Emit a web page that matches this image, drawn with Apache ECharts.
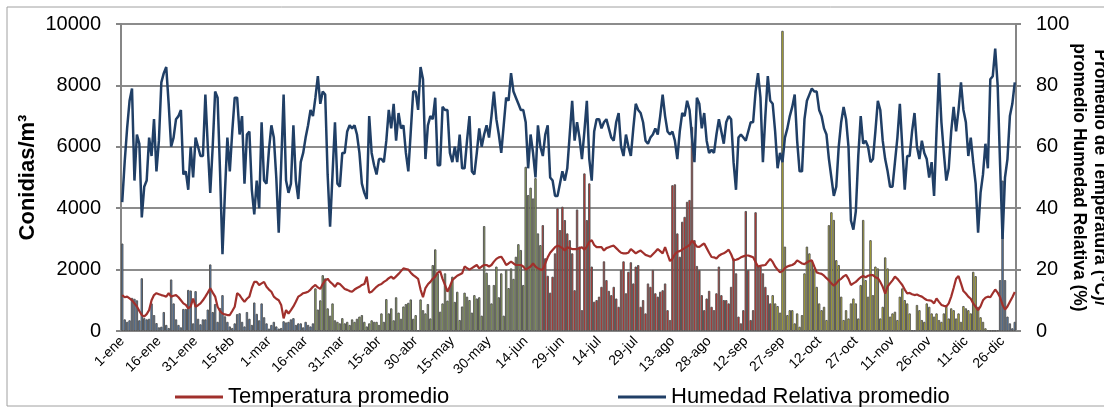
<!DOCTYPE html>
<html>
<head>
<meta charset="utf-8">
<title>Conidias y clima diario</title>
<script src="https://cdn.jsdelivr.net/npm/echarts/dist/echarts.min.js"></script>
<style>
  html, body { margin: 0; padding: 0; background: #fff; overflow: hidden; }
  #chart { width: 1104px; height: 407px; }
</style>
</head>
<body>
<div id="chart"></div>
<script>
// Calendar of a leap year, one category per day
const monthNames = ['ene', 'feb', 'mar', 'abr', 'may', 'jun', 'jul', 'ago', 'sep', 'oct', 'nov', 'dic'];
const monthLengths = [31, 29, 31, 30, 31, 30, 31, 31, 30, 31, 30, 31];

// Season boundaries (day index where each one begins) and bar fills
const seasonStart = [0, 79, 172, 266, 355];
const seasonFill = ['#4f7fba', '#9cb85a', '#e8231d', '#d6d01f', '#4f7fba'];

// Daily airborne conidia (conidias/m3)
const conidia = [
  2850, 380, 300, 350, 1080, 1050, 1000, 350, 1720, 420,
  380, 400, 900, 520, 260, 120, 140, 620, 200, 100,
  1680, 900, 380, 200, 120, 720, 720, 1340, 1320, 250,
  1300, 400, 220, 380, 380, 700, 2170, 620, 880, 300,
  750, 1170, 480, 300, 150, 100, 250, 550, 580, 300,
  150, 620, 400, 200, 930, 560, 350, 900, 450, 250,
  80, 200, 300, 150, 80, 100, 320, 280, 300, 380,
  420, 200, 250, 250, 120, 300, 200, 150, 250, 1390,
  700, 1000, 1820, 1715, 740, 500, 900, 350, 300, 250,
  420, 250, 300, 200, 380, 300, 400, 470, 520, 300,
  150, 250, 350, 300, 300, 200, 575, 300, 1040, 575,
  740, 350, 1100, 600, 400, 800, 880, 920, 1030, 400,
  520, 30, 1030, 680, 575, 880, 410, 2150, 2660, 1880,
  630, 900, 1880, 990, 1440, 1770, 950, 1280, 360, 800,
  1250, 1120, 1010, 600, 1170, 1060, 1100, 500, 3420, 1900,
  1500, 900, 1500, 2100, 1100, 1880, 500, 1990, 1400, 2040,
  1700, 2420, 2830, 2640, 1500, 5350, 4430, 4670, 4320, 4980,
  3180, 2800, 3450, 2370, 1800, 1250, 1770, 2530, 4000, 3290,
  4050, 3615, 3180, 2960, 2530, 1330, 3960, 2750, 680, 5135,
  3615, 4810, 2100, 955, 1010, 1120, 1440, 2270, 1660, 1310,
  1170, 1440, 1060, 790, 1990, 2270, 1230, 1930, 2240, 1550,
  2100, 2150, 790, 1010, 575, 1550, 1440, 1990, 1230, 1120,
  1280, 1330, 1550, 680, 360, 4750, 4780, 3180, 2420, 3560,
  3720, 4210, 4270, 6650, 2960, 2120, 1990, 1170, 680, 1060,
  1310, 790, 680, 1230, 2100, 1170, 1010, 1010, 900, 1440,
  2370, 1880, 470, 250, 680, 3910, 1990, 360, 680, 3870,
  2100, 2100, 1880, 1440, 1170, 900, 1170, 900, 815, 600,
  9780, 2750, 520, 680, 680, 250, 575, 140, 520, 1880,
  2750, 2530, 2310, 2040, 1440, 900, 680, 790, 360, 3450,
  3870, 3620, 2310, 2150, 1120, 360, 680, 410, 900, 1060,
  900, 410, 1500, 3620, 1660, 1120, 2960, 1170, 2100, 2040,
  410, 790, 2400, 2040, 470, 575, 630, 360, 1120, 1390,
  1010, 900, 575, 30, 30, 850, 680, 360, 300, 900,
  790, 575, 470, 575, 360, 300, 575, 790, 410, 740,
  680, 410, 575, 300, 815, 740, 680, 575, 1930, 1790,
  790, 450, 300, 90, 30, 20, 20, 20, 30, 1660,
  4900, 1660, 470, 250, 90, 300
];

// Daily mean temperature (°C)
const temperature = [
  11.7, 11, 11.2, 10.6, 10, 9, 8, 6.5, 5.2, 4.7,
  5.5, 6.8, 10, 11.7, 12.3, 12, 11.7, 11.5, 11.2, 12.3,
  11.2, 11.5, 11.7, 11, 10, 9, 8.5, 7.4, 8, 10.6,
  7.9, 8.4, 9, 10, 11.2, 12.5, 13.9, 12.5, 11.2, 7.9,
  6.5, 5.7, 5.4, 5.2, 5.2, 6.5, 7.9, 12.3, 11.7, 10.5,
  9.5, 10.5, 11.2, 14, 16, 16, 15, 15.5, 16, 14.4,
  13.5, 12.8, 11.2, 10.5, 10, 8.5, 4.1, 6.8, 5.7, 6.8,
  8, 9.5, 11.2, 11.7, 12.3, 12.5, 12.8, 13.5, 14.4, 15,
  14.2, 13.7, 15.3, 16.5, 17, 16, 15.3, 14.4, 15.6, 15.3,
  14.5, 13.7, 13.4, 13, 12.8, 13.5, 14, 14.4, 15, 15.3,
  17.7, 12.5, 12.8, 13.6, 14.4, 15, 15.3, 16, 16.5, 17.2,
  17.7, 17, 17.8, 18.6, 19.5, 20.4, 20.2, 20, 19, 18.2,
  17.6, 17, 13.5, 11, 14, 15.2, 16, 17, 17.7, 19,
  19.5, 17, 15, 12.8, 14.5, 16.6, 17.3, 18, 18.4, 18.8,
  21, 20.5, 20, 20.5, 21, 21.5, 20.4, 21, 21.5, 21.5,
  21, 21.5, 22.6, 23.5, 24, 24.2, 23, 21.5, 22, 22.6,
  22, 21.5, 21.5, 21.5, 21, 20, 20.5, 21, 22, 21,
  20.4, 20, 20, 22, 24, 25.5, 26.4, 27.3, 27.8, 27.5,
  27, 26.2, 27.3, 27, 26.7, 26.7, 26.7, 27, 27.3, 26.5,
  27.5, 29, 29.6, 28, 27.3, 27.3, 27.3, 26.2, 27, 27.3,
  27.6, 27.8, 27, 26.2, 25.5, 25.3, 25.3, 25.5, 26.7, 26,
  25.3, 25.8, 26.2, 25.5, 24.8, 24.5, 24.2, 25, 25.8, 26.7,
  26, 25.3, 27.3, 25, 22.8, 23.5, 25, 25.8, 26, 26.5,
  27, 27.5, 28, 29.5, 28.5, 27.5, 27.4, 28, 28.5, 27,
  25.5, 24.1, 24, 23.6, 24.5, 25, 25.3, 25.8, 26.5, 25,
  23, 23.2, 23.5, 24, 24.3, 24.6, 24.6, 24.3, 24, 22.5,
  21, 21.2, 21.4, 21.5, 22.5, 23.5, 22.5, 21, 20, 19.1,
  19.5, 20.5, 21, 21.3, 21.5, 22, 23, 22.5, 22, 21.8,
  22.3, 22.8, 23, 21, 19.1, 18.8, 18.6, 18, 17.2, 16.5,
  15.5, 14.8, 15.5, 16.5, 17, 17.8, 18.3, 17, 15, 15.5,
  16, 16.8, 17.5, 17.9, 17.5, 18, 18.2, 18.2, 17.5, 17.2,
  16, 14.4, 12.2, 14.5, 15.5, 16.5, 17.7, 17, 16, 15,
  13.5, 12.2, 12.4, 12, 11.7, 11.9, 11.5, 11.2, 10.6, 10.1,
  10, 9.8, 9, 10.6, 9.5, 8.5, 8.2, 8, 9, 11.2,
  14, 17, 17.9, 15.5, 13, 12.2, 11.2, 10.5, 9, 7.9,
  6.8, 8, 10, 10.8, 11.2, 11, 12.3, 13.5, 12.5, 11,
  8.5, 7, 8, 9.5, 11, 12.7
];

// Daily mean relative humidity (%)
const humidity = [
  42, 55, 66, 75, 79, 49, 64, 61, 37, 47,
  49, 63, 57, 69, 52, 62, 81, 84, 86, 74,
  60, 63, 69, 70, 72, 51, 52, 46, 60, 50,
  63, 60, 57, 57, 77, 60, 45, 60, 78, 76,
  52, 25, 45, 63, 52, 65, 76, 76, 64, 70,
  48, 64, 65, 46, 38, 49, 40, 68, 49, 48,
  59, 67, 63, 50, 32, 54, 77, 49, 45, 48,
  67, 49, 43, 55, 58, 63, 67, 72, 70, 76,
  83, 74, 78, 77, 51, 34, 51, 68, 48, 47,
  58, 58, 65, 67, 66, 67, 64, 58, 48, 45,
  43, 70, 58, 54, 51, 56, 56, 55, 62, 72,
  66, 74, 62, 71, 66, 67, 58, 52, 65, 78,
  78, 72, 86, 82, 56, 67, 70, 69, 76, 54,
  54, 73, 72, 72, 58, 55, 60, 55, 64, 53,
  53, 62, 70, 52, 51, 58, 66, 60, 64, 67,
  63, 70, 78, 69, 64, 58, 67, 76, 75, 84,
  78, 76, 74, 72, 72, 68, 53, 64, 58, 50,
  67, 60, 57, 64, 67, 50, 49, 44, 44, 48,
  52, 49, 53, 64, 75, 62, 68, 63, 56, 65,
  75, 56, 49, 65, 69, 69, 66, 68, 69, 66,
  63, 62, 68, 71, 60, 57, 64, 60, 57, 66,
  74, 72, 71, 68, 62, 61, 63, 64, 66, 64,
  70, 77, 70, 65, 64, 65, 62, 56, 65, 71,
  70, 75, 72, 63, 55, 76, 74, 66, 71, 62,
  58, 59, 58, 64, 69, 65, 61, 68, 70, 69,
  55, 46, 63, 64, 63, 62, 65, 68, 68, 78,
  84, 76, 55, 70, 83, 75, 74, 65, 53, 58,
  55, 63, 66, 70, 73, 77, 62, 52, 52, 69,
  75, 77, 79, 78, 78, 72, 70, 66, 64, 56,
  50, 44, 47, 60, 68, 73, 69, 60, 36, 33,
  39, 57, 70, 61, 62, 60, 55, 56, 65, 75,
  72, 62, 56, 52, 47, 47, 55, 63, 74, 60,
  46, 57, 57, 65, 71, 60, 56, 62, 58, 56,
  50, 55, 44, 65, 84, 68, 58, 49, 53, 65,
  73, 65, 72, 81, 72, 68, 57, 63, 55, 48,
  32, 45, 51, 61, 53, 82, 83, 92, 80, 54,
  30, 50, 56, 70, 74, 81
];

const days = [];
monthNames.forEach(function (m, i) {
  for (let d = 1; d <= monthLengths[i]; d++) days.push(d + '-' + m);
});

function seasonColor(dayIndex) {
  let k = 0;
  for (let s = 0; s < seasonStart.length; s++) if (dayIndex >= seasonStart[s]) k = s;
  return seasonFill[k];
}

const barData = conidia.map(function (v, i) {
  return { value: v, itemStyle: { color: seasonColor(i) } };
});

const FONT = '"Liberation Sans", Arial, sans-serif';
const axisGray = '#868686';
const plainNumber = function (v) { return String(v); };

const chart = echarts.init(document.getElementById('chart'), null, { renderer: 'canvas' });
chart.setOption({
  animation: false,
  backgroundColor: '#ffffff',
  textStyle: { fontFamily: FONT },
  grid: { left: 121, right: 88, top: 24, bottom: 76, containLabel: false, outerBoundsMode: 'none' },
  graphic: [{
    type: 'rect',
    silent: true,
    shape: { x: 7, y: 7, width: 1110, height: 399 },
    style: { fill: 'none', stroke: '#a0a0a0', lineWidth: 1 }
  }],
  legend: [{
    data: ['Temperatura promedio'],
    left: 170, top: 381,
    icon: 'rect', itemWidth: 48, itemHeight: 3,
    textStyle: { fontSize: 22, color: '#000', fontFamily: FONT }
  }, {
    data: ['Humedad Relativa promedio'],
    left: 613, top: 381,
    icon: 'rect', itemWidth: 48, itemHeight: 3,
    textStyle: { fontSize: 22, color: '#000', fontFamily: FONT }
  }],
  xAxis: {
    type: 'category',
    data: days,
    boundaryGap: true,
    axisLine: { lineStyle: { color: axisGray, width: 2 } },
    axisTick: { interval: 0, length: 5, lineStyle: { color: '#9a9a9a', width: 1 } },
    axisLabel: { interval: 14, rotate: 45, fontSize: 14, color: '#000', margin: 8, fontFamily: FONT },
    splitLine: { show: false }
  },
  yAxis: [{
    type: 'value',
    min: 0, max: 10000, interval: 2000,
    name: 'Conidias/m³',
    nameLocation: 'middle',
    nameGap: 82,
    nameMoveOverlap: false,
    nameTextStyle: { fontSize: 22, fontWeight: 'bold', color: '#000', fontFamily: FONT },
    axisLine: { show: true, lineStyle: { color: axisGray, width: 2 } },
    axisTick: { show: true, length: 5, lineStyle: { color: axisGray, width: 2 } },
    axisLabel: { fontSize: 20, color: '#000', margin: 20, fontFamily: FONT, formatter: plainNumber },
    splitLine: { show: true, lineStyle: { color: '#8c8c8c', width: 2 } }
  }, {
    type: 'value',
    position: 'right',
    min: 0, max: 100, interval: 20,
    name: 'Promedio de Temperatura (°C)/\npromedio Humedad Relativa (%)',
    nameLocation: 'middle',
    nameRotate: -90,
    nameGap: 52,
    nameMoveOverlap: false,
    nameTextStyle: { fontSize: 17.5, fontWeight: 'bold', color: '#000', lineHeight: 21, fontFamily: FONT },
    axisLine: { show: true, lineStyle: { color: axisGray, width: 2 } },
    axisTick: { show: true, length: 5, lineStyle: { color: axisGray, width: 2 } },
    axisLabel: { fontSize: 20, color: '#000', margin: 20, fontFamily: FONT, formatter: plainNumber },
    splitLine: { show: false }
  }],
  series: [{
    name: 'Conidias',
    type: 'bar',
    yAxisIndex: 0,
    data: barData,
    barCategoryGap: '0%',
    itemStyle: { borderColor: '#585858', borderWidth: 1 },
    z: 2
  }, {
    name: 'Temperatura promedio',
    type: 'line',
    yAxisIndex: 1,
    data: temperature,
    showSymbol: false,
    symbol: 'none',
    color: '#a0302c',
    lineStyle: { color: '#a0302c', width: 2.2 },
    z: 3
  }, {
    name: 'Humedad Relativa promedio',
    type: 'line',
    yAxisIndex: 1,
    data: humidity,
    showSymbol: false,
    symbol: 'none',
    color: '#203f66',
    lineStyle: { color: '#203f66', width: 2.5 },
    z: 4
  }]
});
</script>
</body>
</html>
